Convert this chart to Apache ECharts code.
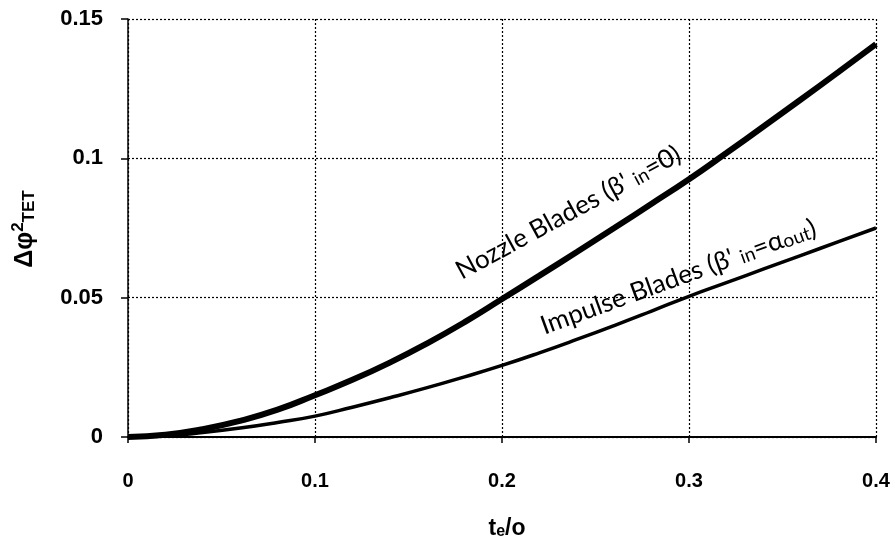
<!DOCTYPE html>
<html><head><meta charset="utf-8">
<script src="https://cdn.jsdelivr.net/npm/echarts@6/dist/echarts.min.js"></script>
<style>html,body{margin:0;padding:0;background:#fff}#c{width:895px;height:537px}</style>
</head><body><div id="c"></div>
<script>
const xValues = [0,0.02,0.04,0.06,0.08,0.1,0.12,0.14,0.16,0.18,0.2,0.22,0.24,0.26,0.28,0.3,0.32,0.34,0.36,0.38,0.4];
const nozzle = [0,0.0008,0.0028,0.0058,0.0098,0.015,0.0205,0.0267,0.0336,0.0412,0.0495,0.0579,0.0664,0.075,0.0837,0.0925,0.1019,0.1115,0.1212,0.131,0.141];
const impulse = [0,0.0004,0.0016,0.0032,0.0052,0.0075,0.0107,0.0141,0.0177,0.0216,0.0257,0.0302,0.035,0.04,0.0452,0.0505,0.0554,0.0603,0.0652,0.0701,0.075];
const xTicks = [0,0.1,0.2,0.3,0.4];
const yTicks = [0,0.05,0.1,0.15];
const nozzleLabel = ["Nozzle Blades (β' ", "in", "=0)"];
const impulseLabel = ["Impulse Blades (β' ", "in", "=α", "out", ")"];

const chart = echarts.init(document.getElementById('c'));
const annFont = 'Lato, "Open Sans", sans-serif';
function rich(size) {
  return {
    n: {fontFamily: annFont, fontSize: size, color: '#000', verticalAlign: 'bottom', lineHeight: size + 4},
    s: {fontFamily: annFont, fontSize: Math.round(size * 0.72), color: '#000', verticalAlign: 'bottom', lineHeight: Math.round(size * 0.35)}
  };
}
chart.setOption({
  animation: false,
  grid: {left: 128, right: 19, top: 19, bottom: 100, containLabel: false},
  xAxis: {
    type: 'value', min: 0, max: 0.4, interval: 0.1,
    axisLine: {show: true, onZero: false, lineStyle: {color: '#000', width: 2}},
    axisTick: {show: true, inside: false, length: 6, lineStyle: {color: '#000', width: 1.5}},
    axisLabel: {color: '#000', fontFamily: 'Arial, "Liberation Sans", sans-serif', fontWeight: 'bold', fontSize: 20, margin: 34,
      formatter: v => xTicks.includes(Math.round(v*10)/10) ? String(Math.round(v*10)/10) : ''},
    splitLine: {show: true, lineStyle: {color: '#000', type: [2,2], width: 1.2}}
  },
  yAxis: {
    type: 'value', min: 0, max: 0.15, interval: 0.05,
    axisLine: {show: true, onZero: false, lineStyle: {color: '#000', width: 1.5}},
    axisTick: {show: true, inside: false, length: 7, lineStyle: {color: '#000', width: 1.5}},
    axisLabel: {color: '#000', fontFamily: 'Arial, "Liberation Sans", sans-serif', fontWeight: 'bold', fontSize: 22, margin: 25,
      formatter: v => { const r = Math.round(v*100)/100; return yTicks.includes(r) ? String(r) : ''; }},
    splitLine: {show: true, lineStyle: {color: '#000', type: [2,2], width: 1.2}}
  },
  series: [
    {type: 'line', data: xValues.map((x,i)=>[x, nozzle[i]]), smooth: true, showSymbol: false,
      lineStyle: {color: '#000', width: 6}, z: 3},
    {type: 'line', data: xValues.map((x,i)=>[x, impulse[i]]), smooth: true, showSymbol: false,
      lineStyle: {color: '#000', width: 3.5}, z: 3}
  ],
  graphic: [
    {type: 'text', x: 464, y: 284, rotation: 28.5*Math.PI/180, z: 10,
      style: {text: '{n|'+nozzleLabel[0]+'}{s|'+nozzleLabel[1]+'}{n|'+nozzleLabel[2]+'}', rich: rich(26), align: 'left', verticalAlign: 'bottom'}},
    {type: 'text', x: 546, y: 339, rotation: 20*Math.PI/180, z: 10,
      style: {text: '{n|'+impulseLabel[0]+'}{s|'+impulseLabel[1]+'}{n|'+impulseLabel[2]+'}{s|'+impulseLabel[3]+'}{n|'+impulseLabel[4]+'}', rich: rich(26), align: 'left', verticalAlign: 'bottom'}},
    {type: 'text', x: 24, y: 229, rotation: Math.PI/2, z: 10,
      style: {text: '{a|Δφ}{b|2}{c|TET}', align: 'center', verticalAlign: 'middle',
        rich: {
          a: {fontFamily: 'Arial, sans-serif', fontWeight: 'bold', fontSize: 25, color: '#000', verticalAlign: 'bottom', lineHeight: 28},
          b: {fontFamily: 'Arial, sans-serif', fontWeight: 'bold', fontSize: 17, color: '#000', verticalAlign: 'top', lineHeight: 17},
          c: {fontFamily: 'Arial, sans-serif', fontWeight: 'bold', fontSize: 17, color: '#000', verticalAlign: 'bottom', lineHeight: 14}
        }}},
    {type: 'text', x: 507, y: 527, z: 10,
      style: {text: '{a|t}{b|e}{a|/o}', align: 'center', verticalAlign: 'middle',
        rich: {
          a: {fontFamily: 'Arial, sans-serif', fontWeight: 'bold', fontSize: 23, color: '#000', verticalAlign: 'bottom', lineHeight: 26},
          b: {fontFamily: 'Arial, sans-serif', fontWeight: 'bold', fontSize: 16, color: '#000', verticalAlign: 'bottom', lineHeight: 10}
        }}}
  ]
});
</script></body></html>
